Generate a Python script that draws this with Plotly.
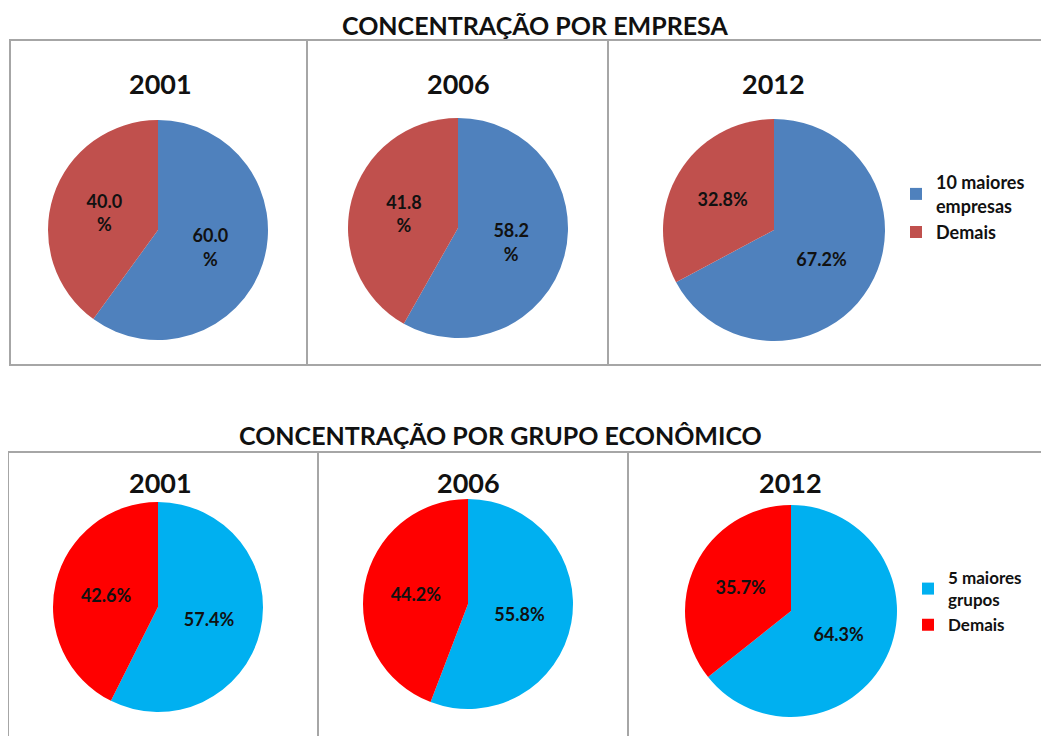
import plotly.graph_objs as go

# the page body has an 8px margin, so the figure is drawn 8px in
OFF = 8
W, H = 1049 - OFF, 736 - OFF

years = ["2001", "2006", "2012"]

# concentração por empresa
emp_labels = ["10 maiores<br>empresas", "Demais"]
emp_top10 = [60.0, 58.2, 67.2]
emp_demais = [40.0, 41.8, 32.8]
emp_colors = ["#4F81BD", "#C0504D"]

# concentração por grupo econômico (zero-width space keeps the legends apart)
grp_labels = ["5 maiores<br>grupos", "Demais\u200b"]
grp_top5 = [57.4, 55.8, 64.3]
grp_demais = [42.6, 44.2, 35.7]
grp_colors = ["#00B0F0", "#FF0000"]

FONT = "Lato, Carlito, Calibri, Liberation Sans, Arial"


def px_x(v):
    return (v - OFF) / W


def px_y(v):
    return 1 - (v - OFF) / H


# pie boxes in screen pixels: (left, top, right, bottom)
emp_boxes = [(48, 120, 268, 340), (348, 118, 568, 338), (663, 119, 885, 341)]
grp_boxes = [(50, 502, 266, 712), (359, 499, 577, 709), (681, 505, 901, 717)]

fig = go.Figure()


def add_pie(vals, labels, colors, box, legend, showlegend, wrap):
    l, t, r, b = box
    txt = [("<b>%.1f<br>%%</b>" if wrap else "<b>%.1f%%</b>") % v for v in vals]
    fig.add_trace(go.Pie(
        values=vals,
        labels=labels,
        text=txt,
        textinfo="text",
        textposition="inside",
        insidetextorientation="horizontal",
        textfont=dict(family=FONT, size=18, color="#111111"),
        marker=dict(colors=colors, line=dict(width=0)),
        sort=False,
        direction="clockwise",
        rotation=0,
        hole=0,
        hoverinfo="label+percent",
        domain=dict(x=[px_x(l), px_x(r)], y=[px_y(b), px_y(t)]),
        legend=legend,
        showlegend=showlegend,
    ))


for i in range(3):
    add_pie([emp_top10[i], emp_demais[i]], emp_labels, emp_colors,
            emp_boxes[i], "legend", i == 2, i < 2)
for i in range(3):
    add_pie([grp_top5[i], grp_demais[i]], grp_labels, grp_colors,
            grp_boxes[i], "legend2", i == 2, False)

shapes = []
line = dict(color="#A6A6A6", width=2)
# top row panels
for x0, x1 in [(10, 307), (307, 608), (608, 1046)]:
    shapes.append(dict(type="rect", xref="paper", yref="paper",
                       x0=px_x(x0), x1=px_x(x1), y0=px_y(365), y1=px_y(40),
                       line=line))
# bottom row panels
for x0, x1 in [(8, 318), (318, 628), (628, 1045)]:
    shapes.append(dict(type="rect", xref="paper", yref="paper",
                       x0=px_x(x0), x1=px_x(x1), y0=px_y(745), y1=px_y(452),
                       line=line))

annotations = [
    dict(text="<b>CONCENTRAÇÃO POR EMPRESA</b>", x=px_x(535), y=px_y(25),
         font=dict(size=25, family=FONT, color="#111111")),
    dict(text="<b>CONCENTRAÇÃO POR GRUPO ECONÔMICO</b>", x=px_x(500), y=px_y(435),
         font=dict(size=25, family=FONT, color="#111111")),
]
for yr, cx in zip(years, [160, 458, 773]):
    annotations.append(dict(text="<b>%s</b>" % yr, x=px_x(cx), y=px_y(84),
                            font=dict(size=27, family=FONT, color="#111111")))
for yr, cx in zip(years, [160, 468, 790]):
    annotations.append(dict(text="<b>%s</b>" % yr, x=px_x(cx), y=px_y(482),
                            font=dict(size=27, family=FONT, color="#111111")))
for a in annotations:
    a.update(xref="paper", yref="paper", showarrow=False,
             xanchor="center", yanchor="middle")

fig.update_layout(
    width=W, height=H,
    margin=dict(l=0, r=0, t=0, b=0),
    paper_bgcolor="white",
    plot_bgcolor="white",
    shapes=shapes,
    annotations=annotations,
    legend=dict(x=px_x(896), y=px_y(164), xanchor="left", yanchor="top",
                font=dict(size=18, family=FONT, color="#111111", weight="bold"),
                itemclick=False, bgcolor="rgba(0,0,0,0)"),
    legend2=dict(x=px_x(908), y=px_y(560), xanchor="left", yanchor="top",
                 font=dict(size=17, family=FONT, color="#111111", weight="bold"),
                 itemclick=False, bgcolor="rgba(0,0,0,0)"),
)

fig.write_html("out.html")
